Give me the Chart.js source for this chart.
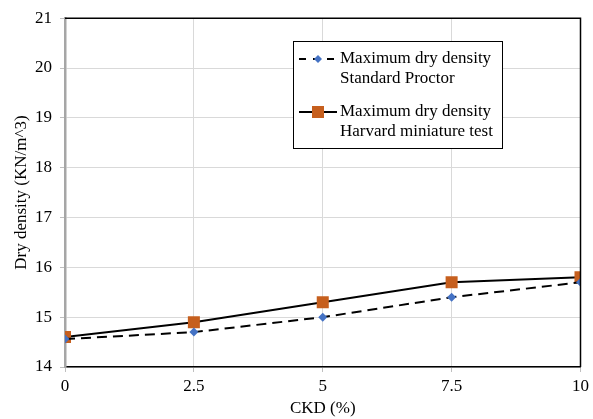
<!DOCTYPE html>
<html>
<head>
<meta charset="utf-8">
<script src="https://cdn.jsdelivr.net/npm/chart.js@4"></script>
<style>
  html, body { margin: 0; padding: 0; background: #fff; }
  #wrap { width: 593px; height: 419px; }
</style>
</head>
<body>
<div id="wrap"><canvas id="chart"></canvas></div>
<script>
(function () {
    "use strict";

    // Data
    const ckd = [0, 2.5, 5, 7.5, 10];
    const standardProctor = [14.56, 14.7, 15.0, 15.4, 15.7];
    const harvardMiniature = [14.6, 14.9, 15.3, 15.7, 15.8];
    const seriesNames = [
        ["Maximum dry density", "Standard Proctor"],
        ["Maximum dry density", "Harvard miniature test"],
    ];

    const font = "'Liberation Serif', 'Times New Roman', serif";

    const toPoints = (ys) => ckd.map((x, i) => ({ x: x, y: ys[i] }));

    // Top/right frame
    const framePlugin = {
        id: "frame",
        afterDraw(chart) {
            const { ctx, chartArea: a } = chart;
            ctx.save();
            ctx.strokeStyle = "#000";
            ctx.lineWidth = 1.5;
            ctx.beginPath();
            ctx.moveTo(a.left, a.top);
            ctx.lineTo(a.right, a.top);
            ctx.lineTo(a.right, a.bottom);
            ctx.stroke();
            ctx.restore();
        },
    };

    // Legend box with two-line labels
    const legendPlugin = {
        id: "boxLegend",
        afterDraw(chart) {
            const ctx = chart.ctx;
            const box = { x: 293.5, y: 41.5, w: 209, h: 107 };
            ctx.save();
            ctx.fillStyle = "#fff";
            ctx.fillRect(box.x, box.y, box.w, box.h);
            ctx.strokeStyle = "#000";
            ctx.lineWidth = 1;
            ctx.strokeRect(box.x, box.y, box.w, box.h);

            const rows = [59, 112];
            chart.data.datasets.forEach((ds, i) => {
                const y = rows[i];
                ctx.strokeStyle = ds.borderColor;
                ctx.lineWidth = 2;
                ctx.setLineDash(ds.borderDash ? [7, 7] : []);
                ctx.beginPath();
                ctx.moveTo(299, y);
                ctx.lineTo(337, y);
                ctx.stroke();
                ctx.setLineDash([]);
                ctx.fillStyle = ds.pointBackgroundColor;
                ctx.beginPath();
                if (ds.pointStyle === "rect") {
                    ctx.rect(312, y - 6, 12, 12);
                } else {
                    ctx.moveTo(318, y - 4);
                    ctx.lineTo(322, y);
                    ctx.lineTo(318, y + 4);
                    ctx.lineTo(314, y);
                    ctx.closePath();
                }
                ctx.fill();

                ctx.fillStyle = "#000";
                ctx.font = "17px " + font;
                ctx.textBaseline = "middle";
                ctx.textAlign = "left";
                seriesNames[i].forEach((line, j) => {
                    ctx.fillText(line, 340, y + j * 20);
                });
            });
            ctx.restore();
        },
    };

    const ctx = document.getElementById("chart").getContext("2d");

    new Chart(ctx, {
        type: "line",
        data: {
            datasets: [
                {
                    label: seriesNames[0].join(" "),
                    data: toPoints(standardProctor),
                    borderColor: "#000",
                    borderWidth: 2,
                    borderDash: [10, 6],
                    pointStyle: "rectRot",
                    pointRadius: 4.5,
                    pointBackgroundColor: "#4472C4",
                    pointBorderColor: "#4472C4",
                    pointBorderWidth: 0,
                    tension: 0,
                },
                {
                    label: seriesNames[1].join(" "),
                    data: toPoints(harvardMiniature),
                    borderColor: "#000",
                    borderWidth: 2,
                    pointStyle: "rect",
                    pointRadius: 8.5,
                    pointBackgroundColor: "#C65F1E",
                    pointBorderColor: "#C65F1E",
                    pointBorderWidth: 0,
                    tension: 0,
                },
            ],
        },
        options: {
            responsive: true,
            maintainAspectRatio: false,
            animation: false,
            layout: {
                padding: { top: 17, right: 11, left: 0, bottom: 0 },
            },
            plugins: {
                legend: { display: false },
                tooltip: { enabled: false },
            },
            scales: {
                x: {
                    type: "linear",
                    min: 0,
                    max: 10,
                    ticks: {
                        stepSize: 2.5,
                        color: "#000",
                        font: { family: font, size: 17 },
                        padding: 4,
                    },
                    grid: {
                        color: "#d9d9d9",
                        tickColor: "#bfbfbf",
                        tickLength: 5,
                    },
                    border: { color: "#000", width: 1.5 },
                    title: {
                        display: true,
                        text: "CKD (%)",
                        color: "#000",
                        font: { family: font, size: 17 },
                        padding: { top: 0, bottom: 0 },
                    },
                    afterFit(scale) {
                        scale.height = 52;
                    },
                },
                y: {
                    min: 14,
                    max: 21,
                    ticks: {
                        stepSize: 1,
                        color: "#000",
                        font: { family: font, size: 17 },
                        padding: 8,
                    },
                    grid: {
                        color: "#d9d9d9",
                        tickColor: "#bfbfbf",
                        tickLength: 5,
                    },
                    border: { color: "#a6a6a6", width: 2.5 },
                    title: {
                        display: true,
                        text: "Dry density (KN/m^3)",
                        color: "#000",
                        font: { family: font, size: 17 },
                        padding: { top: 11, bottom: 0 },
                    },
                    afterFit(scale) {
                        scale.width = 65;
                    },
                },
            },
        },
        plugins: [framePlugin, legendPlugin],
    });
})();
</script>
</body>
</html>
